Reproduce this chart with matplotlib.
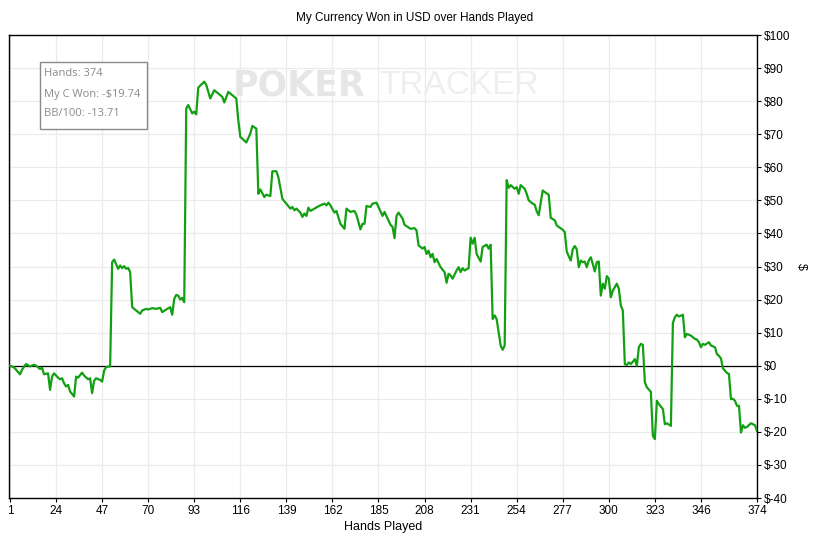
import matplotlib
matplotlib.use("Agg")
import matplotlib.pyplot as plt
from matplotlib.ticker import FixedLocator, FuncFormatter

# %% data
hands = [1, 3, 6, 7, 9, 11, 13, 14, 16, 17, 18, 20, 21, 22, 23, 25, 26, 27, 28, 29,
         30, 31, 33, 34, 35, 37, 38, 40, 41, 42, 43, 44, 46, 47, 48, 49, 51,
         52, 53, 55, 56, 57, 58, 59, 60, 61, 62, 64, 66, 67, 69, 70, 72, 74, 76,
         77, 79, 81, 82, 83, 84, 85, 86, 87, 88,
         89, 90, 92, 93, 94, 95, 98, 99, 101, 103, 105, 107, 108, 110, 111, 113,
         114, 115, 116, 119, 121, 122, 124, 125, 126, 128, 129, 131, 132, 134, 135,
         137, 138, 139, 141, 142, 143, 144, 146, 147, 148, 149, 150, 151, 153, 155,
         156, 158, 159, 160, 161, 163, 164, 166, 168, 169, 171, 173, 174, 176, 177,
         178, 179, 181, 182, 184, 185, 187, 188, 191, 192, 193, 194, 195, 197, 198,
         201, 203, 204, 205, 207, 208, 209, 210, 211, 212, 213, 214, 216, 218, 219,
         220, 221, 222, 224, 225, 226, 227, 228, 230, 231, 232, 233, 234, 236, 237,
         239, 240, 241, 242, 243, 244, 246, 247, 248, 249, 250, 251, 253, 254, 255,
         256, 258, 259, 260, 262, 263, 264, 265, 267, 268, 270, 271, 273, 274, 277,
         278, 279, 280, 281, 282, 283, 284, 285, 286, 287, 288, 289, 290, 291, 292,
         293, 294, 295, 296, 297, 298, 299, 300, 301, 302, 304, 305, 306, 307, 308,
         309, 310, 311, 312, 313, 314, 315, 316, 317, 318, 319, 321, 322, 323, 324,
         325, 327, 328, 329, 331, 332, 333, 334, 335, 336, 337, 338, 339, 341, 343,
         344, 345, 346, 347, 348, 350, 351, 353, 354, 355, 356, 357, 359, 360, 361,
         362, 363, 364, 365, 366, 367, 368, 369, 371, 373, 374]
won = [0.0, -0.5, -2.6, -1.2, 0.5, -0.2, 0.3, 0.0, -1.0, -0.6, -2.6, -2.3, -7.3, -3.3, -2.3, -3.6, -4.1, -3.8, -5.3, -6.3,
       -5.8, -7.8, -9.3, -3.3, -3.6, -2.1, -3.0, -4.1, -3.8, -8.3, -4.6, -3.8, -4.3, -4.8, -1.5, -0.4, -0.2,
       31.3, 32.1, 29.3, 30.3, 29.5, 30.1, 29.3, 29.6, 28.3, 17.7, 16.7, 15.7, 16.7, 17.2, 17.0, 17.4, 17.2, 17.5,
       16.2, 17.0, 17.7, 15.4, 20.2, 21.4, 21.2, 20.0, 20.5, 19.2,
       77.8, 78.8, 76.3, 76.8, 76.0, 84.1, 85.9, 84.9, 80.8, 83.3, 82.3, 81.3, 79.6, 82.8, 82.3, 81.3,
       80.8, 74.2, 69.2, 67.5, 70.2, 72.5, 71.7, 52.0, 53.3, 51.0, 51.7, 51.3, 58.8, 58.8, 57.0,
       50.5, 49.7, 49.0, 47.5, 48.0, 47.0, 47.5, 46.3, 45.0, 46.0, 45.3, 47.8, 46.8, 47.5, 48.2,
       48.5, 49.0, 48.5, 49.3, 48.5, 46.3, 46.8, 42.9, 41.4, 47.5, 46.5, 46.8, 45.6, 41.2, 42.9,
       42.9, 48.3, 48.0, 49.0, 49.3, 48.0, 45.3, 46.5, 42.6, 42.0, 38.6, 45.3, 46.3, 44.5, 42.6,
       41.4, 41.6, 40.9, 36.4, 35.4, 35.9, 33.8, 34.8, 32.8, 33.8, 31.3, 32.3, 29.8, 28.3, 25.1,
       27.8, 27.3, 26.3, 28.8, 29.8, 28.3, 29.5, 28.8, 29.5, 38.7, 36.9, 38.7, 33.8, 31.5, 35.9,
       36.6, 35.4, 36.6, 14.1, 15.2, 14.1, 6.1, 4.8, 6.1, 56.1, 53.8, 54.6, 53.5, 54.0, 52.0,
       54.6, 53.5, 52.0, 50.0, 49.0, 48.7, 46.7, 45.5, 53.0, 52.5, 51.7, 44.7, 44.0, 42.4, 41.1,
       40.4, 34.5, 33.1, 31.8, 35.2, 36.2, 35.2, 29.8, 31.8, 31.3, 31.5, 29.8, 31.8, 32.8, 30.8,
       28.5, 31.3, 31.5, 21.2, 24.8, 23.3, 27.1, 26.3, 20.7, 22.7, 24.8, 23.3, 18.2, 16.7, 0.5,
       0.2, 1.0, 0.5, 1.2, 2.0, 0.0, 5.6, 6.6, 6.3, -5.0, -6.5, -7.9, -21.2, -22.2, -10.6,
       -11.6, -13.1, -17.7, -17.4, -18.2, 12.9, 14.7, 15.4, 14.9, 15.1, 15.4, 8.6, 9.6, 9.1, 8.1,
       7.9, 7.1, 5.6, 6.6, 6.3, 7.1, 6.1, 5.6, 3.5, 3.0, 2.2, -0.8, -2.2, -2.5, -10.1,
       -10.0, -10.6, -12.1, -12.1, -20.2, -18.0, -18.8, -18.5, -17.4, -18.0, -19.74]

x_ticks = [1, 24, 47, 70, 93, 116, 139, 162, 185, 208, 231, 254, 277, 300, 323, 346, 374]
y_ticks = list(range(-40, 101, 10))
info_lines = ["Hands: 374", "My C Won: -$19.74", "BB/100: -13.71"]

# %% plot
plt.rcParams['font.family'] = ['Liberation Sans', 'DejaVu Sans']

fig = plt.figure(figsize=(8.2, 5.37), dpi=100)
ax = fig.add_axes([9 / 820, 1 - 498 / 537, (757 - 9) / 820, (498 - 35) / 537])

ax.plot(hands, won, color='#12a012', lw=1.6, zorder=3, solid_joinstyle='round')
ax.axhline(0, color='black', lw=0.9, zorder=2)

ax.set_xlim(0.5, 374)
ax.set_ylim(-40, 100)
ax.xaxis.set_major_locator(FixedLocator(x_ticks))
ax.yaxis.set_major_locator(FixedLocator(y_ticks))
ax.yaxis.tick_right()
ax.yaxis.set_label_position('right')
ax.yaxis.set_major_formatter(FuncFormatter(lambda v, p: '$' + str(int(v))))
ax.grid(True, color='#ebebeb', lw=0.9, zorder=0)
ax.tick_params(axis='both', labelsize=8.5, length=3, width=0.8, color='black', pad=2)
for s in ax.spines.values():
    s.set_linewidth(1.0)

ax.set_xlabel('Hands Played', fontsize=9, labelpad=3)
ax.set_ylabel('$', fontsize=9, rotation=270, labelpad=12)
fig.text(415 / 820, 1 - 18 / 537, 'My Currency Won in USD over Hands Played',
         ha='center', va='center', fontsize=8.5)

# watermark
fig.text(233 / 820, 1 - 85 / 537, 'POKER', fontsize=25, fontweight='bold',
         color='#e6e6e6', ha='left', va='center', zorder=1, family='DejaVu Sans')
fig.text(379 / 820, 1 - 85 / 537, 'TRACKER', fontsize=24, color='#efefef',
         ha='left', va='center', zorder=1, family='Liberation Sans')

# info box
box = plt.Rectangle((40 / 820, 1 - 129 / 537), 107 / 820, 67 / 537, transform=fig.transFigure,
                    facecolor='white', edgecolor='#8a8a8a', lw=1.0, zorder=5)
fig.patches.append(box)
for i, t in enumerate(info_lines):
    fig.text(44 / 820, 1 - (74 + i * 20) / 537, t, fontsize=8, color='#8a8a8a',
             ha='left', va='center', zorder=6, family=['Open Sans', 'DejaVu Sans'])

fig.savefig('out.png', dpi=100)
